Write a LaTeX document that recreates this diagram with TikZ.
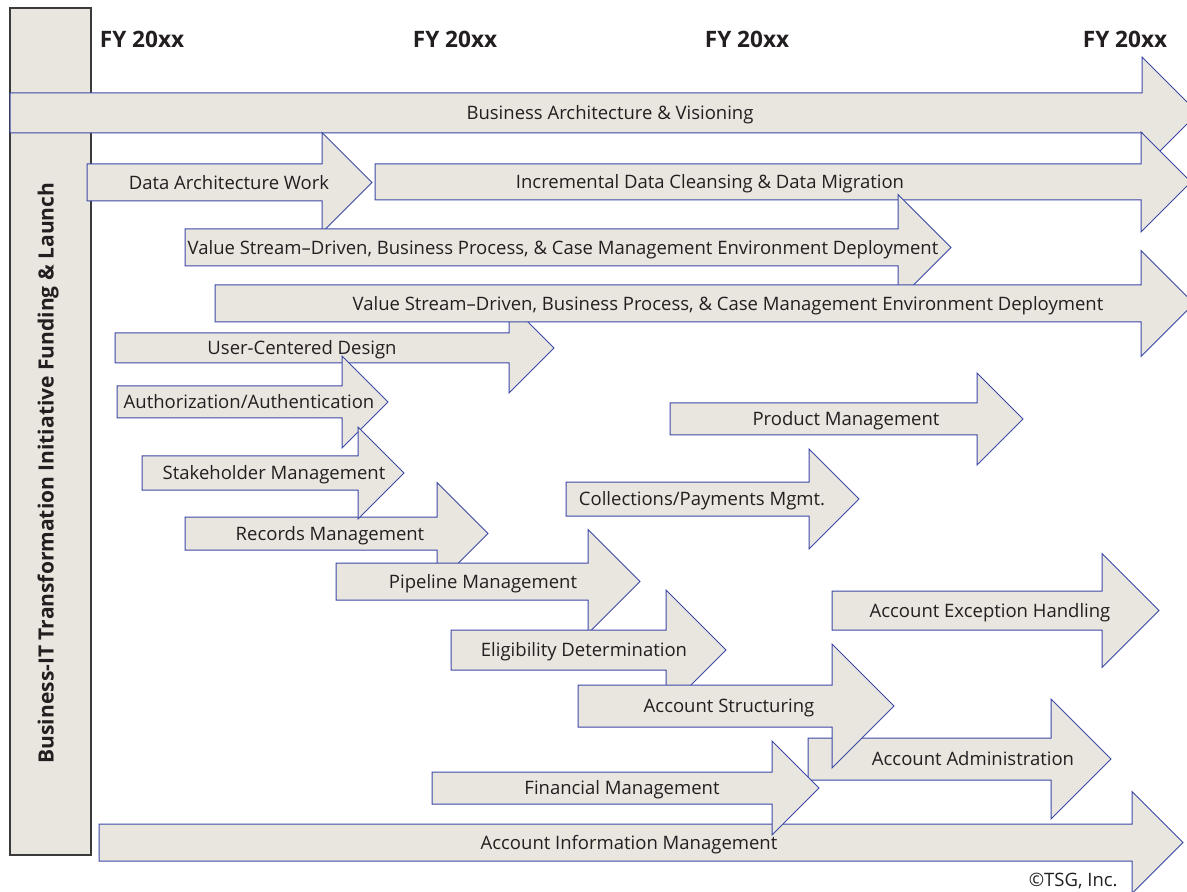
\documentclass[tikz,border=0pt]{standalone}
\usepackage{fontspec}
\setmainfont{Open Sans}
\usetikzlibrary{calc}
\definecolor{barfill}{HTML}{E8E6DF}
\definecolor{barline}{HTML}{3C48A6}
\definecolor{framegray}{HTML}{3A3A3A}
\definecolor{txtgray}{HTML}{231F20}
\tikzset{bar/.style={fill=barfill,draw=barline,line width=0.5pt,line join=miter}}
\tikzset{lbl/.style={font=\fontsize{9.25}{10}\selectfont,text=txtgray,inner sep=0pt,text height=6.6pt,text depth=0pt}}
\tikzset{fy/.style={font=\bfseries\fontsize{11.3}{12}\selectfont,text=txtgray,inner sep=0pt,text height=8pt,text depth=0pt}}
\tikzset{side/.style={font=\bfseries\fontsize{10.5}{12}\selectfont,text=txtgray,inner sep=0pt,text height=7.6pt,text depth=0pt}}

% timeline arrow: name, left end, neck, top, bottom, half head, label x, label
\newcommand{\tlarrow}[8]{%
  \draw[bar] (#2,#4) -- (#3,#4) -- (#3,{(#4+#5)/2-#6}) -- ({#3+#6},{(#4+#5)/2})
    -- (#3,{(#4+#5)/2+#6}) -- (#3,#5) -- (#2,#5) -- cycle;
  \node[lbl] (#1) at (#7,{(#4+#5)/2}) {#8};}

\begin{document}
\begin{tikzpicture}[x=0.5pt,y=-0.5pt]
	\useasboundingbox (0,0) rectangle (1187,892);
	\clip (0,0) rectangle (1187,892);

	% Coluna de lancamento
	\draw[fill=barfill,draw=framegray,line width=0.6pt] (10,8) rectangle (91,855);
	\node[side,rotate=90] (launch) at (46,473) {Business-IT Transformation Initiative Funding \& Launch};

	% Anos
	\node[fy] (fyA) at (142,40) {FY 20xx};
	\node[fy] (fyB) at (455,40) {FY 20xx};
	\node[fy] (fyC) at (747,40) {FY 20xx};
	\node[fy] (fyD) at (1125,40) {FY 20xx};

	% Setas
	\tlarrow{visioning}{10}{1142}{93}{133}{56}{610}{Business Architecture \& Visioning}
	\tlarrow{dataarch}{87}{322}{164}{201}{50}{229}{Data Architecture Work}
	\tlarrow{cleansing}{375}{1141}{164}{200}{50}{710}{Incremental Data Cleansing \& Data Migration}
	\tlarrow{streamA}{185}{898}{229}{266}{53}{563}{Value Stream--Driven, Business Process, \& Case Management Environment Deployment}
	\tlarrow{ucd}{115}{509}{333}{363}{45}{302}{User-Centered Design}
	\tlarrow{streamB}{215}{1141}{285}{322}{53}{728}{Value Stream--Driven, Business Process, \& Case Management Environment Deployment}
	\tlarrow{auth}{117}{342}{386}{418}{46}{249}{Authorization/Authentication}
	\tlarrow{records}{185}{437}{517}{550}{51}{330}{Records Management}
	\tlarrow{stake}{142}{358}{456}{490}{46}{274}{Stakeholder Management}
	\tlarrow{pipeline}{336}{588}{563}{600}{52}{483}{Pipeline Management}
	\tlarrow{eligib}{451}{666}{630}{670}{60}{584}{Eligibility Determination}
	\tlarrow{product}{670}{977}{403}{435}{46}{846}{Product Management}
	\tlarrow{collect}{566}{809}{482}{516}{50}{702}{Collections/Payments Mgmt.}
	\tlarrow{exception}{832}{1102}{591}{630}{57}{990}{Account Exception Handling}
	\tlarrow{admin}{808}{1051}{738}{780}{60}{973}{Account Administration}
	\tlarrow{struct}{578}{832}{685}{727}{62}{729}{Account Structuring}
	\tlarrow{info}{99}{1132}{824}{861}{51}{629}{Account Information Management}
	\tlarrow{finance}{432}{772}{772}{804}{47}{622}{Financial Management}

	% Credito
	\node[lbl,anchor=east] (tsg) at (1118,880) {©TSG, Inc.};
\end{tikzpicture}
\end{document}
